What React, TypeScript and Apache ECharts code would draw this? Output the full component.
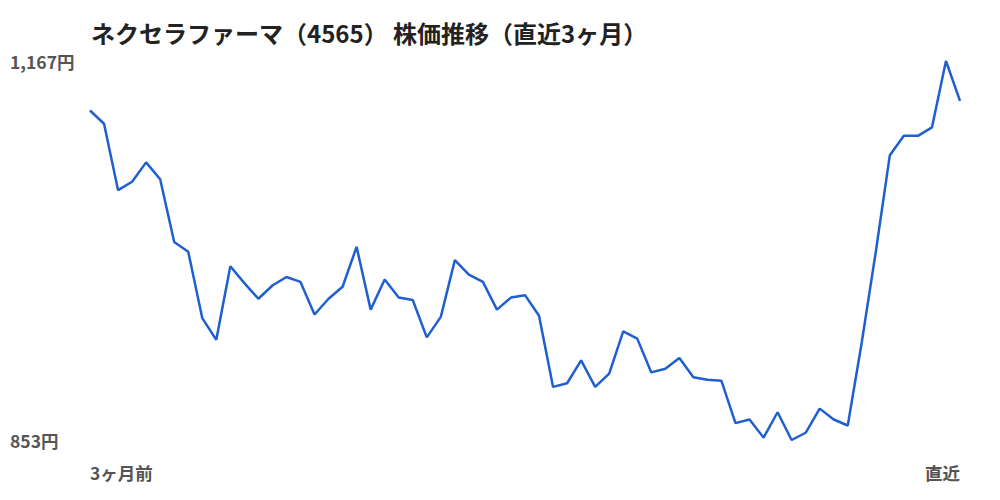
import React, { useEffect, useRef } from 'react';
import * as echarts from 'echarts';

const titleText = 'ネクセラファーマ（4565） 株価推移（直近3ヶ月）';
const startLabel = '3ヶ月前';
const endLabel = '直近';
const priceMin = 853;
const priceMax = 1167;

// 終値（約3ヶ月分、画像から読み取り）
const prices = [
    1126, 1115, 1060, 1067, 1083, 1069, 1017, 1009, 954, 936,
    997, 983, 970, 981, 988, 984, 957, 970, 980, 1013,
    961, 986, 971, 969, 938, 955, 1002, 990, 984, 961,
    971, 973, 956, 897, 900, 919, 897, 908, 943, 937,
    909, 912, 921, 905, 903, 902, 867, 870, 855, 876,
    853, 859, 879, 870, 865, 934, 1009, 1089, 1105, 1105,
    1112, 1167, 1134,
];

const days = prices.map((_, i) => String(i));

const fmtYen = (v: number) => v.toLocaleString('ja-JP') + '円';

const App: React.FC = () => {
    const chartRef = useRef<HTMLDivElement>(null);

    useEffect(() => {
        if (!chartRef.current) return;
        const myChart = echarts.init(chartRef.current, undefined, { renderer: 'svg' });
        const last = prices.length - 1;
        const font = '"Noto Sans CJK JP", "Noto Sans", sans-serif';

        const option: any = {
            animation: false,
            backgroundColor: '#ffffff',
            textStyle: { fontFamily: font },
            title: {
                text: titleText,
                left: 86,
                top: 15,
                textStyle: { color: '#222', fontSize: 24, fontWeight: 'bold', fontFamily: font },
            },
            grid: { left: 90, right: 40, top: 61, bottom: 60, outerBoundsMode: 'none' },
            xAxis: {
                type: 'category',
                data: days,
                boundaryGap: false,
                axisLine: { show: false },
                axisTick: { show: false },
                splitLine: { show: false },
                axisLabel: {
                    interval: (index: number) => index === 0 || index === last,
                    formatter: (_v: string, index: number) => (index === 0 ? startLabel : index === last ? endLabel : ''),
                    alignMinLabel: 'left',
                    alignMaxLabel: 'right',
                    margin: 24,
                    color: '#555',
                    fontSize: 17.5,
                    fontWeight: 'bold',
                    fontFamily: font,
                },
            },
            yAxis: {
                type: 'value',
                min: priceMin,
                max: priceMax,
                axisLine: { show: false },
                axisTick: { show: false },
                splitLine: { show: false },
                axisLabel: {
                    showMinLabel: true,
                    showMaxLabel: true,
                    formatter: (v: number) => (v === priceMin || v === priceMax ? fmtYen(v) : ''),
                    align: 'left',
                    margin: 80,
                    color: '#555',
                    fontSize: 17.5,
                    fontWeight: 'bold',
                    fontFamily: font,
                },
            },
            series: [
                {
                    type: 'line',
                    data: prices,
                    symbol: 'none',
                    lineStyle: { color: '#1f5fcf', width: 2.5 },
                },
            ],
        };

        myChart.setOption(option);
        return () => myChart.dispose();
    }, []);

    return (
        <div
            ref={chartRef}
            style={{ position: 'fixed', left: 0, top: 0, width: '1000px', height: '500px', background: '#fff' }}
        />
    );
};

export default App;
